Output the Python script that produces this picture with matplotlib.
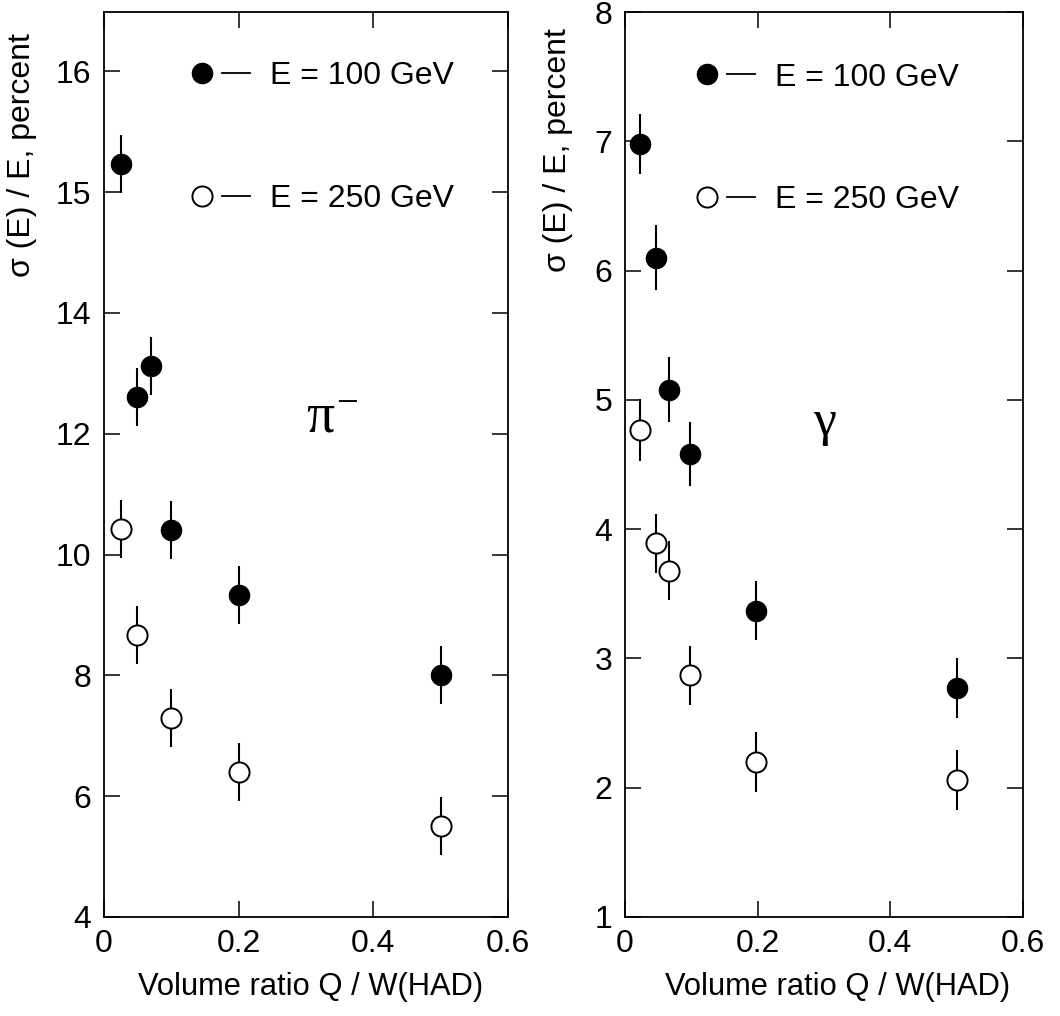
import matplotlib
matplotlib.use("Agg")
import matplotlib.pyplot as plt
from matplotlib.lines import Line2D
from matplotlib.legend_handler import HandlerTuple

plt.rcParams['font.family'] = ['Liberation Sans', 'DejaVu Sans']
plt.rcParams['mathtext.fontset'] = 'custom'
plt.rcParams['mathtext.rm'] = 'Liberation Serif'
plt.rcParams['mathtext.it'] = 'Liberation Serif'

# --- pi- beam -------------------------------------------------------------
pi_q_100 = [0.025, 0.049, 0.070, 0.100, 0.200, 0.500]
pi_res_100 = [16.47, 12.60, 13.12, 10.40, 9.33, 8.00]
pi_err_100 = [0.48, 0.48, 0.48, 0.48, 0.48, 0.48]

pi_q_250 = [0.025, 0.049, 0.100, 0.200, 0.500]
pi_res_250 = [10.42, 8.66, 7.30, 6.40, 5.50]
pi_err_250 = [0.48, 0.48, 0.48, 0.48, 0.48]

# --- gamma beam -----------------------------------------------------------
g_q_100 = [0.022, 0.047, 0.066, 0.098, 0.197, 0.500]
g_res_100 = [6.98, 6.10, 5.08, 4.58, 3.37, 2.77]
g_err_100 = [0.23, 0.25, 0.25, 0.25, 0.23, 0.23]

g_q_250 = [0.022, 0.047, 0.066, 0.098, 0.197, 0.500]
g_res_250 = [4.77, 3.89, 3.68, 2.87, 2.20, 2.06]
g_err_250 = [0.24, 0.23, 0.23, 0.23, 0.23, 0.23]

x_ticks = [0, 0.2, 0.4, 0.6]
x_ticklabels = ["0", "0.2", "0.4", "0.6"]
pi_y_ticks = [4, 6, 8, 10, 12, 14, 16, 18]
pi_y_ticklabels = ["4", "6", "8", "10", "12", "14", "15", "16"]
g_y_ticks = [1, 2, 3, 4, 5, 6, 7, 8]
g_y_ticklabels = ["1", "2", "3", "4", "5", "6", "7", "8"]

labels = ["E = 100 GeV", "E = 250 GeV"]
xlabel = "Volume ratio Q / W(HAD)"
ylabel = "\u03c3 (E) / E, percent"

FS = 23
MS = 14.5

fig = plt.figure(figsize=(10.6, 10.16), dpi=100)
ax1 = fig.add_axes([104 / 1060, 1 - 917 / 1016, 404 / 1060, 905 / 1016])
ax2 = fig.add_axes([625 / 1060, 1 - 917 / 1016, 398 / 1060, 905 / 1016])


def draw_panel(ax, q100, r100, e100, q250, r250, e250, yticks, yticklabels,
               ylim, tag, tag_pos, tag_kw, leg_anchor, ylab_xy, xlab_xy):
    ax.errorbar(q100, r100, yerr=e100, fmt='o', ms=MS, mfc='black', mec='black',
                ecolor='black', elinewidth=1.5, capsize=0, zorder=3)
    ax.errorbar(q250, r250, yerr=e250, fmt='o', ms=MS, mfc='white', mec='black',
                mew=1.4, ecolor='black', elinewidth=1.5, capsize=0, zorder=3)
    ax.set_xlim(0, 0.6)
    ax.set_ylim(*ylim)
    ax.set_xticks(x_ticks)
    ax.set_xticklabels(x_ticklabels)
    ax.set_yticks(yticks)
    ax.set_yticklabels(yticklabels)
    ax.tick_params(axis='both', direction='in', length=11.5, width=1.1,
                   labelsize=FS, top=True, right=True, pad=9)
    for sp in ax.spines.values():
        sp.set_linewidth(1.3)
    ax.set_xlabel(xlabel, fontsize=22.2)
    ax.xaxis.set_label_coords(*xlab_xy)
    ax.set_ylabel(ylabel, fontsize=FS)
    ax.yaxis.set_label_coords(*ylab_xy)
    ax.text(tag_pos[0], tag_pos[1], tag, transform=ax.transAxes,
            ha='center', va='center', **tag_kw)

    h_fill = (Line2D([], [], ls='none', marker='o', ms=MS, mfc='black', mec='black'),
              Line2D([], [], color='black', lw=1.3))
    h_open = (Line2D([], [], ls='none', marker='o', ms=MS, mfc='white', mec='black', mew=1.4),
              Line2D([], [], color='black', lw=1.3))
    ax.legend([h_fill, h_open], labels, loc='upper left', bbox_to_anchor=leg_anchor,
              frameon=False, fontsize=FS, handlelength=1.94, handletextpad=0.63,
              labelspacing=2.9, borderpad=0, borderaxespad=0,
              handler_map={tuple: HandlerTuple(ndivide=None, pad=0.19)})


draw_panel(ax1, pi_q_100, pi_res_100, pi_err_100, pi_q_250, pi_res_250, pi_err_250,
           pi_y_ticks, pi_y_ticklabels, (4, 18.98), r'$\pi^{-}$', (0.565, 0.551),
           dict(fontsize=40), (0.208, 0.9456), (-0.165, 0.842), (0.512, -0.061))
draw_panel(ax2, g_q_100, g_res_100, g_err_100, g_q_250, g_res_250, g_err_250,
           g_y_ticks, g_y_ticklabels, (1, 8), '\u03b3', (0.50, 0.546),
           dict(fontsize=37, family='Liberation Serif'), (0.171, 0.944),
           (-0.131, 0.847), (0.535, -0.061))

fig.savefig("out.png", dpi=100)
